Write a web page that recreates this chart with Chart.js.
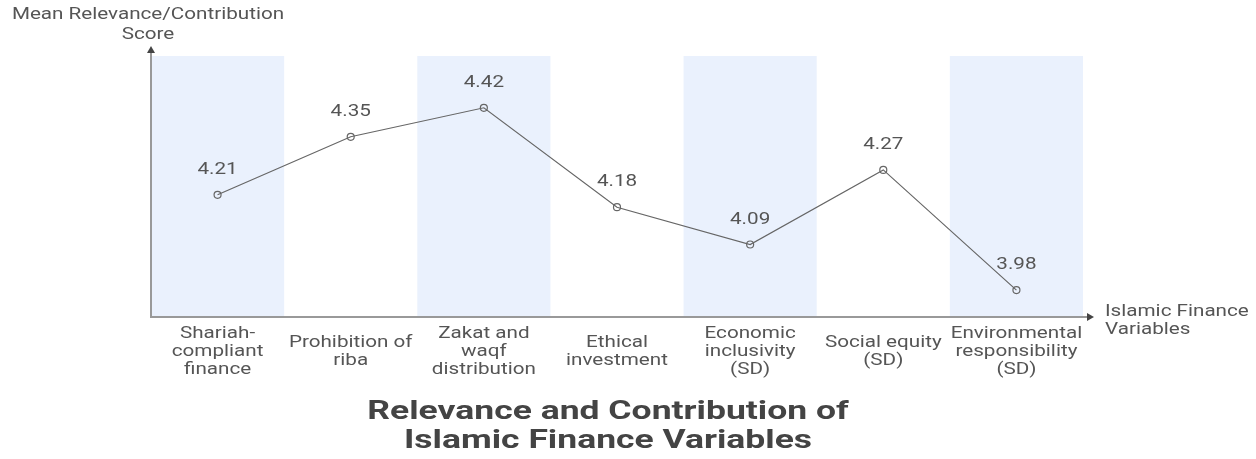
<!DOCTYPE html>
<html>
<head>
<meta charset="utf-8">
<script src="https://cdn.jsdelivr.net/npm/chart.js@4/dist/chart.umd.min.js"></script>
<style>
html,body{margin:0;padding:0;background:#fff;}
canvas{display:block;}
</style>
</head>
<body>
<canvas id="c" width="1256" height="459"></canvas>
<script>
const categories = [
  ["Shariah-","compliant","finance"],
  ["Prohibition of","riba"],
  ["Zakat and","waqf","distribution"],
  ["Ethical","investment"],
  ["Economic","inclusivity","(SD)"],
  ["Social equity","(SD)"],
  ["Environmental","responsibility","(SD)"]
];
const scores = [4.21, 4.35, 4.42, 4.18, 4.09, 4.27, 3.98];
const scoreLabels = ["4.21","4.35","4.42","4.18","4.09","4.27","3.98"];
const yAxisTitle = ["Mean Relevance/Contribution","Score"];
const xAxisTitle = ["Islamic Finance","Variables"];
const chartTitle = ["Relevance and Contribution of","Islamic Finance Variables"];
const yMin = 3.915, yMax = 4.545;

const FONT = "Roboto, 'Liberation Sans', sans-serif";
const SX = 1.29;      // horizontal stretch of small text
const TSX = 1.42;     // horizontal stretch of title

function txt(ctx, s, x, y, sx) {
  ctx.save();
  ctx.translate(x, y);
  ctx.scale(sx, 1);
  ctx.fillText(s, 0, 0);
  ctx.restore();
}

const decor = {
  id: 'decor',
  beforeDatasetsDraw(chart) {
    const ctx = chart.ctx, x = chart.scales.x, a = chart.chartArea;
    const step = x.getPixelForValue(1) - x.getPixelForValue(0);
    ctx.save();
    ctx.fillStyle = '#EAF1FD';
    categories.forEach((c, i) => {
      if (i % 2 === 0) {
        const cx = x.getPixelForValue(i);
        ctx.fillRect(cx - step/2, a.top, step, a.bottom - a.top);
      }
    });
    ctx.restore();
  },
  afterDatasetsDraw(chart) {
    const ctx = chart.ctx, x = chart.scales.x, y = chart.scales.y, a = chart.chartArea;
    ctx.save();
    // axes
    ctx.strokeStyle = '#999';
    ctx.lineWidth = 2;
    ctx.beginPath();
    ctx.moveTo(a.left, a.bottom);
    ctx.lineTo(a.left, a.top - 4);
    ctx.moveTo(a.left - 1, a.bottom);
    ctx.lineTo(a.right + 6, a.bottom);
    ctx.stroke();
    ctx.fillStyle = '#444';
    ctx.beginPath();
    ctx.moveTo(a.left, a.top - 10);
    ctx.lineTo(a.left - 4, a.top - 3);
    ctx.lineTo(a.left + 4, a.top - 3);
    ctx.closePath(); ctx.fill();
    ctx.beginPath();
    ctx.moveTo(a.right + 11, a.bottom);
    ctx.lineTo(a.right + 4, a.bottom - 4);
    ctx.lineTo(a.right + 4, a.bottom + 4);
    ctx.closePath(); ctx.fill();

    // value labels
    ctx.fillStyle = '#555';
    ctx.font = '16px ' + FONT;
    ctx.textAlign = 'center';
    ctx.textBaseline = 'middle';
    scores.forEach((v, i) => {
      txt(ctx, scoreLabels[i], x.getPixelForValue(i), y.getPixelForValue(v) - 25, SX);
    });

    // category labels (vertically centered block)
    const lh = 18;
    categories.forEach((lines, i) => {
      const cx = x.getPixelForValue(i);
      const top = a.bottom + 17 + (3 - lines.length) * lh / 2;
      lines.forEach((t, k) => txt(ctx, t, cx, top + k * lh, SX));
    });

    // x axis title
    ctx.textAlign = 'left';
    txt(ctx, xAxisTitle[0], a.right + 22, a.bottom - 5, SX);
    txt(ctx, xAxisTitle[1], a.right + 22, a.bottom + 13, SX);

    // y axis title
    ctx.textAlign = 'center';
    txt(ctx, yAxisTitle[0], a.left - 3, 15, SX);
    txt(ctx, yAxisTitle[1], a.left - 3, 35, SX);

    // chart title
    ctx.fillStyle = '#444';
    ctx.font = 'bold 25px ' + FONT;
    const mid = (a.left + a.right) / 2 - 9;
    txt(ctx, chartTitle[0], mid, 413, TSX);
    txt(ctx, chartTitle[1], mid, 442, TSX);
    ctx.restore();
  }
};

new Chart(document.getElementById('c'), {
  type: 'line',
  data: {
    labels: categories.map(c => c.join(' ')),
    datasets: [{
      data: scores,
      borderColor: '#666',
      borderWidth: 1.2,
      pointRadius: 3.5,
      pointBorderWidth: 1.2,
      pointBorderColor: '#666',
      pointBackgroundColor: 'rgba(255,255,255,0)',
      tension: 0,
      fill: false
    }]
  },
  options: {
    responsive: false,
    animation: false,
    layout: { padding: { left: 151, right: 173, top: 56, bottom: 142 } },
    plugins: { legend: { display: false }, tooltip: { enabled: false }, title: { display: false } },
    scales: {
      x: { display: false, offset: true },
      y: { display: false, min: yMin, max: yMax }
    }
  },
  plugins: [decor]
});
</script>
</body>
</html>
